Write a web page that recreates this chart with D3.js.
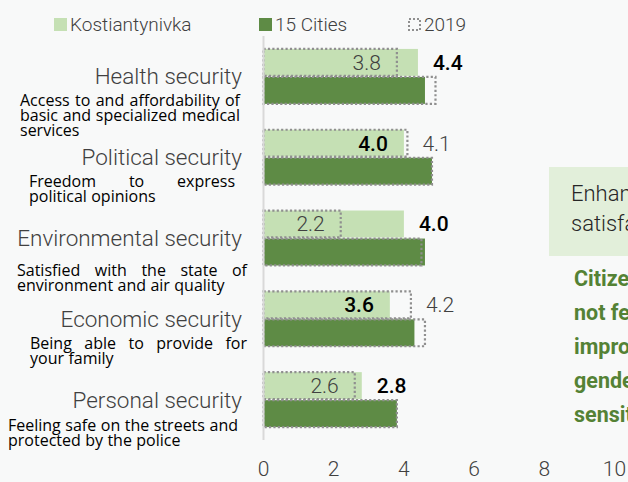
<!DOCTYPE html>
<html lang="en">
  <head>
    <meta charset="utf-8" />
    <title>Human security</title>
    <style>
      html,
      body {
        margin: 0;
        padding: 0;
        background-color: #f8f9f9;
        overflow: hidden;
      }
      svg {
        display: block;
      }
      .title {
        font-family: Roboto, sans-serif;
        font-weight: 300;
        fill: #404040;
      }
      .desc {
        font-family: 'Open Sans', sans-serif;
        fill: #000;
      }
    </style>
  </head>
  <body>
    <svg></svg>
    <script src="https://d3js.org/d3.v7.min.js"></script>
    <script>
      // data
      const categories = ['Health security', 'Political security', 'Environmental security', 'Economic security', 'Personal security']
      const descriptions = [
        ['Access to and affordability of', 'basic and specialized medical', 'services'],
        ['Freedom to express', 'political opinions'],
        ['Satisfied with the state of', 'environment and air quality'],
        ['Being able to provide for', 'your family'],
        ['Feeling safe on the streets and', 'protected by the police'],
      ]
      const kostiantynivka = [4.4, 4.0, 4.0, 3.6, 2.8]
      const kostiantynivka2019 = [3.8, 4.1, 2.2, 4.2, 2.6]
      const cities = [4.6, 4.8, 4.6, 4.3, 3.8]
      const cities2019 = [4.9, 4.8, 4.5, 4.6, 3.8]
      const ticks = [0, 2, 4, 6, 8, 10]
      const seriesNames = ['Kostiantynivka', '15 Cities', '2019']

      // layout for the justified description blocks (left, right, baseline offset)
      const descLayout = [
        [20, 240, 29.5],
        [29, 235, 30],
        [17, 247, 38],
        [30, 247, 30],
        [8, 238, 31.5],
      ]

      const width = 628,
        height = 482
      const light = '#c5e0b4',
        dark = '#5e8b45',
        dotted = '#8f8f8f'

      const svg = d3.select('svg').attr('width', width).attr('height', height)

      const x = d3.scaleLinear().domain([0, 10]).range([263.5, 614.5])
      const y = d3.scaleBand().domain(categories).range([36, 440]).paddingInner(0.32).paddingOuter(0.16)
      const sub = d3.scaleBand().domain(['k', 'c']).range([0, y.bandwidth()]).paddingInner(0.04)

      const rows = categories.map((c, i) => ({
        cat: c,
        k: kostiantynivka[i],
        k19: kostiantynivka2019[i],
        c: cities[i],
        c19: cities2019[i],
      }))

      const g = svg
        .append('g')
        .selectAll('g')
        .data(rows)
        .join('g')
        .attr('transform', (d) => `translate(0,${y(d.cat)})`)

      // bars
      g.append('rect')
        .attr('x', x(0))
        .attr('y', sub('k'))
        .attr('width', (d) => x(d.k) - x(0))
        .attr('height', sub.bandwidth())
        .attr('fill', light)
      g.append('rect')
        .attr('x', x(0))
        .attr('y', sub('c'))
        .attr('width', (d) => x(d.c) - x(0))
        .attr('height', sub.bandwidth())
        .attr('fill', dark)

      // 2019 dotted outlines
      g.append('rect')
        .attr('x', x(0))
        .attr('y', sub('k'))
        .attr('width', (d) => x(d.k19) - x(0))
        .attr('height', sub.bandwidth())
        .attr('fill', 'none')
        .attr('stroke', dotted)
        .attr('stroke-width', 2.2)
        .attr('stroke-dasharray', '2.2,2.2')
      g.append('rect')
        .attr('x', x(0))
        .attr('y', sub('c'))
        .attr('width', (d) => x(d.c19) - x(0))
        .attr('height', sub.bandwidth())
        .attr('fill', 'none')
        .attr('stroke', dotted)
        .attr('stroke-width', 2.2)
        .attr('stroke-dasharray', '2.2,2.2')

      // value labels: the smaller sits inside, the larger outside
      const fmt = d3.format('.1f')
      const labelY = sub('k') + sub.bandwidth() / 2 + 7.5
      function addLabel(sel, key, bold) {
        sel
          .append('text')
          .attr('x', (d) => {
            const other = key === 'k' ? d.k19 : d.k
            return d[key] < other ? x(d[key]) - 16 : x(d[key]) + 15
          })
          .attr('y', labelY)
          .attr('text-anchor', (d) => {
            const other = key === 'k' ? d.k19 : d.k
            return d[key] < other ? 'end' : 'start'
          })
          .attr('font-family', 'Roboto, sans-serif')
          .attr('font-size', 21)
          .attr('font-weight', bold ? 500 : 300)
          .attr('fill', bold ? '#000' : '#404040')
          .text((d) => fmt(d[key]))
      }
      addLabel(g, 'k19', false)
      addLabel(g, 'k', true)

      // axis line
      svg
        .append('line')
        .attr('x1', x(0))
        .attr('x2', x(0))
        .attr('y1', 36)
        .attr('y2', 440)
        .attr('stroke', '#d9d9d9')
        .attr('stroke-width', 2)

      // tick labels
      svg
        .append('g')
        .selectAll('text')
        .data(ticks)
        .join('text')
        .attr('class', 'title')
        .attr('x', (d) => x(d))
        .attr('y', 476)
        .attr('text-anchor', 'middle')
        .attr('font-size', 21)
        .text((d) => d)

      // category titles
      svg
        .append('g')
        .selectAll('text')
        .data(categories)
        .join('text')
        .attr('class', 'title')
        .attr('x', 242)
        .attr('y', (d) => y(d) + y.bandwidth() / 2 + 8)
        .attr('text-anchor', 'end')
        .attr('font-size', 22.5)
        .text((d) => d)

      // justified descriptions
      const descG = svg.append('g')
      descriptions.forEach((lines, i) => {
        const [x0, x1, dy] = descLayout[i]
        const base = y(categories[i]) + y.bandwidth() / 2 + dy
        lines.forEach((line, j) => {
          const words = line.split(' ')
          const ty = base + j * 15.2
          const last = j === lines.length - 1
          const nodes = words.map((w) =>
            descG.append('text').attr('class', 'desc').attr('font-size', 16).attr('y', ty).text(w)
          )
          const widths = nodes.map((n) => n.node().getComputedTextLength())
          const total = d3.sum(widths)
          const space = last || words.length < 2 ? 4.4 : (x1 - x0 - total) / (words.length - 1)
          let cx = x0
          nodes.forEach((n, k) => {
            n.attr('x', cx)
            cx += widths[k] + space
          })
        })
      })

      // legend
      const legend = svg.append('g')
      const legendX = [54, 259, 408]
      legend
        .selectAll('rect')
        .data(seriesNames)
        .join('rect')
        .attr('x', (d, i) => legendX[i] + (i === 2 ? 1 : 0))
        .attr('y', (d, i) => (i === 2 ? 19 : 18))
        .attr('width', (d, i) => (i === 2 ? 11 : 13))
        .attr('height', (d, i) => (i === 2 ? 11 : 13))
        .attr('fill', (d, i) => (i === 0 ? light : i === 1 ? dark : 'none'))
        .attr('stroke', (d, i) => (i === 2 ? dotted : 'none'))
        .attr('stroke-width', 2)
        .attr('stroke-dasharray', '2,2')
      legend
        .selectAll('text')
        .data(seriesNames)
        .join('text')
        .attr('class', 'title')
        .attr('x', (d, i) => legendX[i] + 16)
        .attr('y', 31)
        .attr('font-size', 19)
        .text((d) => d)

      // side panel (cut off by the frame)
      svg.append('rect').attr('x', 549).attr('y', 167).attr('width', 120).attr('height', 89).attr('fill', '#e2efda')
      svg
        .append('g')
        .selectAll('text')
        .data(['Enhanced security', 'satisfaction'])
        .join('text')
        .attr('x', 571)
        .attr('y', (d, i) => 201 + i * 30)
        .attr('font-family', 'Roboto, sans-serif')
        .attr('font-weight', 300)
        .attr('font-size', 22)
        .attr('fill', '#262626')
        .text((d) => d)
      svg
        .append('g')
        .selectAll('text')
        .data(['Citizens do', 'not feel', 'improvements', 'gender', 'sensitive'])
        .join('text')
        .attr('x', 574)
        .attr('y', (d, i) => 286 + i * 34)
        .attr('font-family', 'Roboto, sans-serif')
        .attr('font-weight', 700)
        .attr('font-size', 21.5)
        .attr('fill', '#548235')
        .text((d) => d)
    </script>
  </body>
</html>
